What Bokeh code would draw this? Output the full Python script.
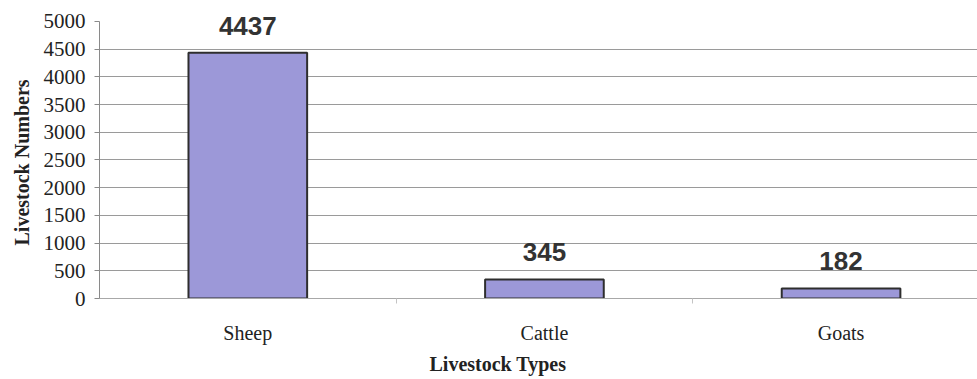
from bokeh.plotting import figure
from bokeh.models import Range1d, FixedTicker, Title, ColumnDataSource
from bokeh.core.properties import value
from bokeh.embed import file_html
from bokeh.resources import INLINE

# Livestock counts
categories = ["Sheep", "Cattle", "Goats"]
counts = [4437, 345, 182]
y_ticks = [0, 500, 1000, 1500, 2000, 2500, 3000, 3500, 4000, 4500, 5000]

xs = list(range(len(categories)))
src = ColumnDataSource(dict(x=xs, top=counts, lab=[str(c) for c in counts]))

p = figure(width=977, height=379, output_backend="svg", toolbar_location=None,
           x_range=Range1d(-0.5, 2.46), y_range=Range1d(0, 5379),
           min_border_left=98, min_border_right=0, min_border_top=0,
           min_border_bottom=0)
p.outline_line_color = None
p.background_fill_color = "white"
p.border_fill_color = "white"

p.vbar(x="x", top="top", width=0.4, source=src,
       fill_color="#9c98d8", line_color="#2e2e2e", line_width=2)

p.text(x="x", y="top", text="lab", source=src, text_align="center",
       text_baseline="alphabetic", y_offset=-27,
       text_font=value("Liberation Sans"), text_font_style="bold",
       text_font_size="26px", text_color="#333333")

serif = "Liberation Serif"

# y axis
ya = p.yaxis[0]
ya.ticker = FixedTicker(ticks=y_ticks)
ya.bounds = (0, 5000)
ya.axis_line_color = "#8a8a8a"
ya.major_tick_line_color = "#8a8a8a"
ya.major_tick_out = 5
ya.major_tick_in = 0
ya.minor_tick_line_color = None
ya.major_label_standoff = 9
ya.major_label_text_font = serif
ya.major_label_text_font_size = "21px"
ya.major_label_text_color = "#222222"

# x axis: labels under each bar, small ticks between categories
xa = p.xaxis[0]
xa.ticker = FixedTicker(ticks=xs, minor_ticks=[x + 0.5 for x in xs[:-1]])
xa.major_label_overrides = {i: c for i, c in zip(xs, categories)}
xa.axis_line_color = "#a8a8a8"
xa.major_tick_line_color = None
xa.minor_tick_line_color = "#c4c4c4"
xa.minor_tick_out = 5
xa.minor_tick_in = 0
xa.major_label_standoff = 17
xa.major_label_text_font = serif
xa.major_label_text_font_size = "20px"
xa.major_label_text_color = "#222222"

# axis titles, offset from the frame corner
p.add_layout(Title(text="Livestock Numbers", align="left", offset=53,
                   text_font=serif, text_font_style="bold",
                   text_font_size="20px", text_color="#222222",
                   standoff=16), "left")
p.add_layout(Title(text="Livestock Types", align="left", offset=330,
                   text_font=serif, text_font_style="bold",
                   text_font_size="20px", text_color="#222222",
                   standoff=9), "below")

p.xgrid.grid_line_color = None
p.ygrid.ticker = FixedTicker(ticks=y_ticks[1:-1])
p.ygrid.grid_line_color = "#9a9a9a"
p.ygrid.grid_line_width = 1

open("out.html", "w").write(file_html(p, INLINE))
